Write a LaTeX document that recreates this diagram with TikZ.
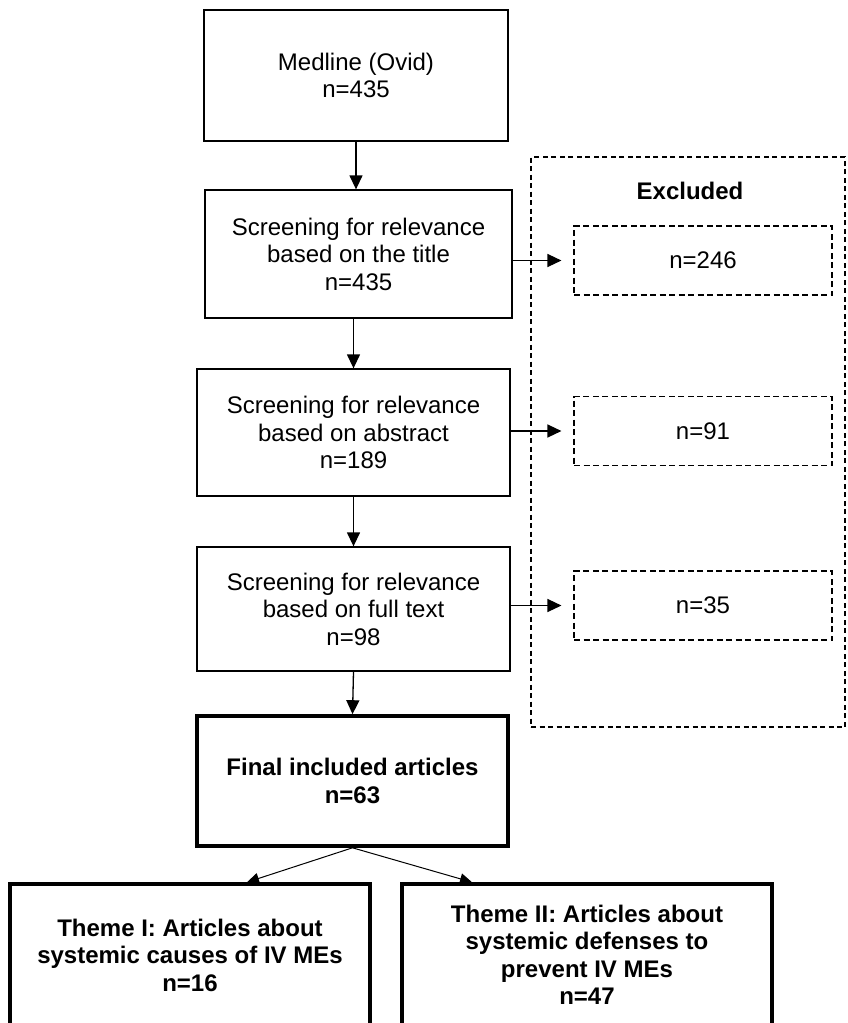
\documentclass[tikz,border=0pt]{standalone}
\usepackage{fontspec}
\setmainfont{Liberation Sans}
\usetikzlibrary{arrows.meta}

\begin{document}
\begin{tikzpicture}[x=1pt,y=1pt,
  txt/.style={font=\fontsize{24}{27.5}\selectfont, align=center},
  box/.style={draw, line width=1.3pt, inner sep=0pt, txt},
  boldbox/.style={draw, line width=3.6pt, inner sep=0pt, align=center,
    font=\fontsize{24}{27.5}\selectfont\bfseries},
  exbox/.style={draw, line width=1.1pt, dash pattern=on 6pt off 3.5pt,
    inner sep=0pt, txt},
  arr/.style={-{Triangle[length=14pt,width=13pt]}, line width=1.3pt},
  thinarr/.style={-{Triangle[length=12pt,width=11pt]}, line width=1pt}
]
\useasboundingbox (0,0) rectangle (847,-1023);
\clip (0,0) rectangle (847,-1023);

% main screening chain
\node[box, minimum width=304, minimum height=131] (medline) at (356,-75.5)
  {Medline (Ovid)\\n=435};
\node[box, minimum width=307, minimum height=128] (title) at (358.5,-254)
  {Screening for relevance\\based on the title\\n=435};
\node[box, minimum width=313, minimum height=127] (abstract) at (353.5,-432.5)
  {Screening for relevance\\based on abstract\\n=189};
\node[box, minimum width=313, minimum height=124] (fulltext) at (353.5,-609)
  {Screening for relevance\\based on full text\\n=98};
\node[boldbox, minimum width=311, minimum height=130] (final) at (352.5,-781)
  {Final included articles\\n=63};

% the two themes (bottom edges run off the page)
\node[boldbox, minimum width=360, minimum height=142] (theme1) at (190,-955)
  {Theme I: Articles about\\systemic causes of IV MEs\\n=16};
\node[boldbox, minimum width=370, minimum height=142] (theme2) at (587,-955)
  {Theme II: Articles about\\systemic defenses to\\prevent IV MEs\\n=47};

% excluded panel
\node[draw, line width=1.1pt, dash pattern=on 5pt off 3.5pt,
  minimum width=314, minimum height=570, inner sep=0pt] (panel) at (688,-442) {};
\node[font=\fontsize{24}{27.5}\selectfont\bfseries] (exlabel) at (690,-191) {Excluded};
\node[exbox, minimum width=258, minimum height=69] (ex1) at (703,-260.5) {n=246};
\node[exbox, minimum width=258, minimum height=69] (ex2) at (703,-431) {n=91};
\node[exbox, minimum width=258, minimum height=69] (ex3) at (703,-605.5) {n=35};

% connectors
\draw[arr] (medline.south) -- (medline.south |- title.north);
\draw[arr] (abstract.north |- title.south) -- (abstract.north);
\draw[arr] (abstract.south) -- (fulltext.north);
\draw[arr] (fulltext.south) -- (final.north);

\draw[arr, shorten >=12pt] (title.east |- ex1.west) -- (ex1.west);
\draw[arr, shorten >=12pt] (abstract.east |- ex2.west) -- (ex2.west);
\draw[arr, shorten >=12pt] (fulltext.east |- ex3.west) -- (ex3.west);

\draw[thinarr] (final.south) -- ([xshift=57pt]theme1.north);
\draw[thinarr] (final.south) -- ([xshift=-115pt]theme2.north);
\end{tikzpicture}
\end{document}
